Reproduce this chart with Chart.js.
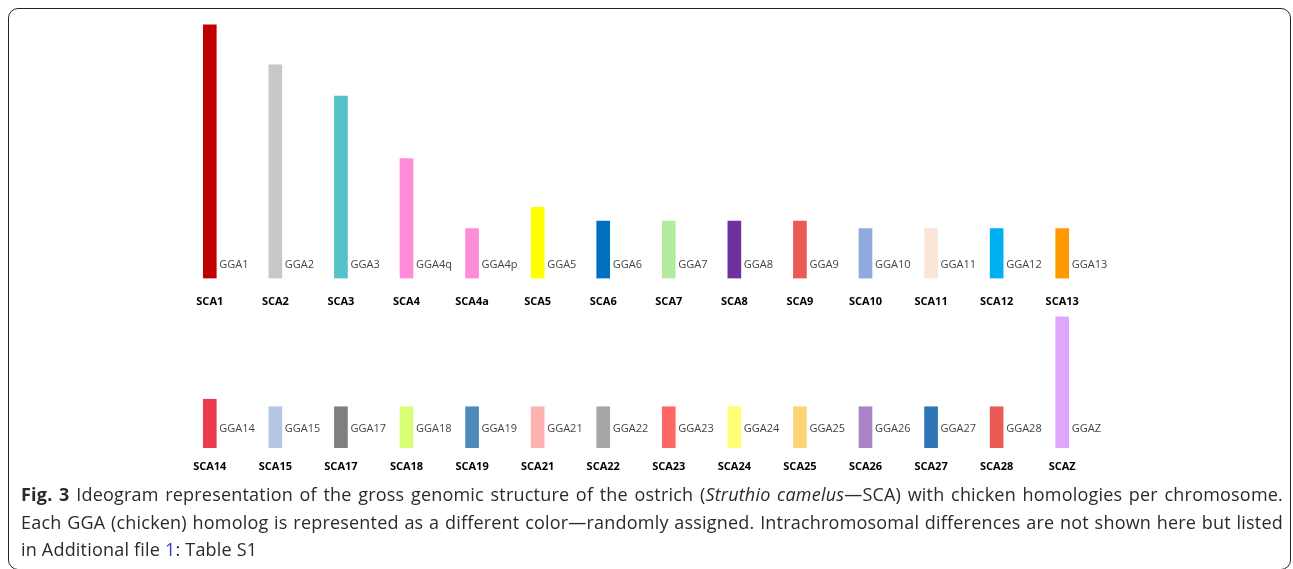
<!DOCTYPE html>
<html>
<head>
<meta charset="utf-8">
<script src="https://cdn.jsdelivr.net/npm/chart.js@4.4.1/dist/chart.umd.min.js"></script>
<style>
  body { margin:0; background:#fff; width:1293px; height:569px; overflow:hidden; position:relative; font-family:'Open Sans', sans-serif; }
  #frame { position:absolute; left:8px; top:8px; width:1283px; height:562px; border:1.5px solid #222; border-radius:10px; box-sizing:border-box; }
  #topWrap { position:absolute; left:0; top:0; width:1293px; height:310px; }
  #botWrap { position:absolute; left:0; top:300px; width:1293px; height:200px; }
  .cap { position:absolute; left:21px; width:1262px; font-size:18px; letter-spacing:0.2px; line-height:27.5px; color:#2a2a2a; white-space:nowrap; }
  .just { text-align:justify; text-align-last:justify; }
  .cap a { color:#2a3fc8; text-decoration:none; }
</style>
</head>
<body>
<div id="frame"></div>
<div id="topWrap"><canvas id="topChart" width="1293" height="310"></canvas></div>
<div id="botWrap"><canvas id="botChart" width="1293" height="200"></canvas></div>
<div class="cap just" style="top:481px"><b>Fig. 3</b> Ideogram representation of the gross genomic structure of the ostrich (<i>Struthio camelus</i>—SCA) with chicken homologies per chromosome.</div>
<div class="cap just" style="top:509px">Each GGA (chicken) homolog is represented as a different color—randomly assigned. Intrachromosomal differences are not shown here but listed</div>
<div class="cap" style="top:536px">in Additional file <a>1</a>: Table S1</div>

<script>
// ostrich chromosomes, relative lengths
const topChrom = ['SCA1','SCA2','SCA3','SCA4','SCA4a','SCA5','SCA6','SCA7','SCA8','SCA9','SCA10','SCA11','SCA12','SCA13'];
const topLength = [203, 171, 146, 96, 40, 57, 46, 46, 46, 46, 40, 40, 40, 40];
const topHomolog = ['GGA1','GGA2','GGA3','GGA4q','GGA4p','GGA5','GGA6','GGA7','GGA8','GGA9','GGA10','GGA11','GGA12','GGA13'];
const topColors = ['#c00000','#c8c8c8','#52c1c8','#ff8cd9','#ff8cd9','#ffff00','#0070c0','#b3eb9c','#7030a0','#eb5a55','#8faadc','#fbe5d6','#00b0f0','#ff9900'];

const botChrom = ['SCA14','SCA15','SCA17','SCA18','SCA19','SCA21','SCA22','SCA23','SCA24','SCA25','SCA26','SCA27','SCA28','SCAZ'];
const botLength = [39, 33, 33, 33, 33, 33, 33, 33, 33, 33, 33, 33, 33, 105];
const botHomolog = ['GGA14','GGA15','GGA17','GGA18','GGA19','GGA21','GGA22','GGA23','GGA24','GGA25','GGA26','GGA27','GGA28','GGAZ'];
const botColors = ['#ec3a4e','#b4c7e7','#7f7f7f','#d9ff75','#4e8ab8','#ffb3b0','#a6a6a6','#ff6666','#ffff77','#ffd479','#ab83c6','#2e75b6','#eb5a55','#e1a6fc'];

// writes the GGA name to the right of each bar
const homologLabels = {
  id: 'homologLabels',
  afterDatasetsDraw(chart, args, opts) {
    const ctx = chart.ctx;
    const meta = chart.getDatasetMeta(0);
    ctx.save();
    ctx.font = '11px "Open Sans"';
    ctx.fillStyle = '#444';
    ctx.textBaseline = 'middle';
    ctx.textAlign = 'left';
    meta.data.forEach((bar, i) => {
      ctx.fillText(opts.names[i], bar.x + bar.width / 2 + 3, chart.chartArea.bottom - opts.offset);
    });
    ctx.restore();
  }
};

const makeRow = (id, chrom, len, names, colors, yMax, pad, tickPad, axisH, offset) => {
  const ctx = document.getElementById(id).getContext('2d');
  return new Chart(ctx, {
    type: 'bar',
    data: {
      labels: chrom,
      datasets: [{ data: len, backgroundColor: colors, barThickness: 13 }]
    },
    options: {
      responsive: false,
      animation: false,
      layout: { padding: pad },
      plugins: {
        legend: { display: false },
        tooltip: { enabled: false },
        homologLabels: { names: names, offset: offset }
      },
      scales: {
        x: {
          grid: { display: false, drawTicks: false },
          border: { display: false },
          ticks: { color: '#000', padding: tickPad, maxRotation: 0, autoSkip: false, font: { family: 'Open Sans', size: 11, weight: 'bold' } },
          afterFit: (s) => { s.height = axisH; }
        },
        y: { display: false, min: 0, max: yMax }
      }
    },
    plugins: [homologLabels]
  });
};

makeRow('topChart', topChrom, topLength, topHomolog, topColors, 208, { top: 18.5, left: 177, right: 198, bottom: 0 }, 17, 31.5, 13.5);
makeRow('botChart', botChrom, botLength, botHomolog, botColors, 112, { top: 8, left: 177, right: 198, bottom: 0 }, 12.5, 52, 19);
</script>
</body>
</html>
